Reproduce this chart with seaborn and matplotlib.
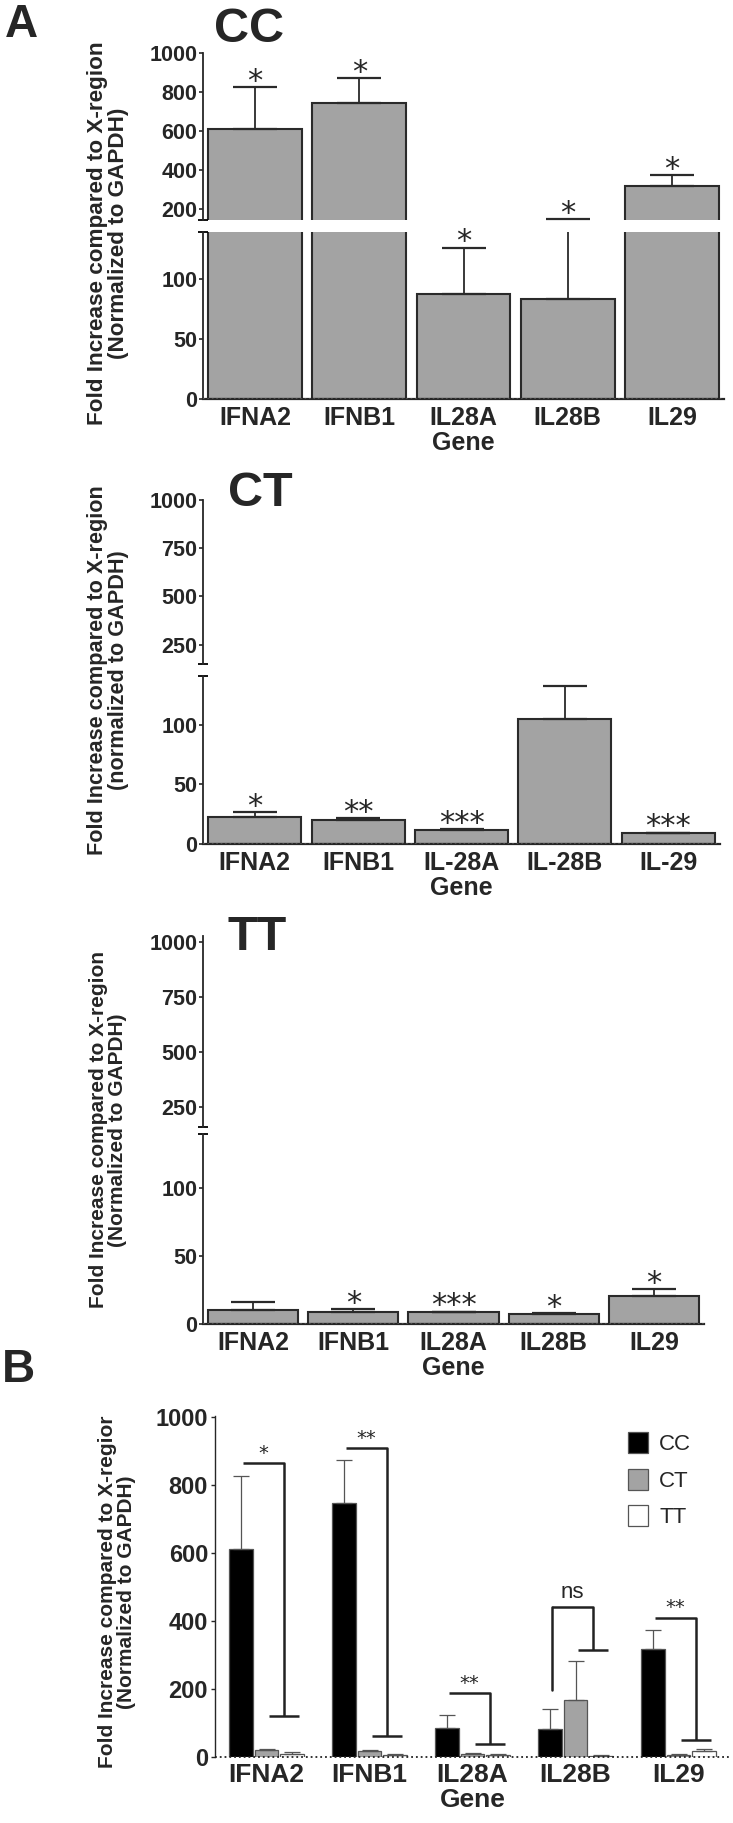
import matplotlib
matplotlib.use("Agg")
import numpy as np
import pandas as pd
import matplotlib.pyplot as plt
import seaborn as sns

# ---- data ----
genes = ['IFNA2', 'IFNB1', 'IL28A', 'IL28B', 'IL29']
genes_ct = ['IFNA2', 'IFNB1', 'IL-28A', 'IL-28B', 'IL-29']

# panel A: bar mean and top of the error bar
cc_mean = [612, 746, 87, 83, 318]
cc_top = [825, 871, 126, 148, 373]
cc_sig = ['*', '*', '*', '*', '*']

ct_mean = [23, 20, 12, 105, 9]
ct_top = [27, 21.5, 12.5, 133, 9.5]
ct_sig = ['*', '**', '***', '', '***']

tt_mean = [10.5, 9, 8.8, 7.4, 21]
tt_top = [16.5, 11, 9.1, 7.8, 25.5]
tt_sig = ['', '*', '***', '*', '*']

# panel B
genotypes = ['CC', 'CT', 'TT']
b_cc_mean = [611, 748, 84, 81, 319]
b_cc_top = [827, 874, 123, 142, 373]
b_ct_mean = [20, 18, 10, 167, 7]
b_ct_top = [25, 20, 11, 283, 8]
b_tt_mean = [8, 7, 7, 4, 19]
b_tt_top = [15, 10, 8, 5, 23]
b_sig = ['*', '**', '**', 'ns', '**']
b_br_top = [865, 909, 187, 442, 410]
b_br_low = [120, 61, 39, 316, 51]
b_br_left = [np.nan, np.nan, np.nan, 196, np.nan]

GRAY = '#a3a3a3'
EDGE = '#2a2a2a'
W, H = 733, 1823

sns.set_style('ticks')
plt.rcParams['font.family'] = ['Liberation Sans', 'DejaVu Sans']
plt.rcParams['font.weight'] = 'bold'

fig = plt.figure(figsize=(W / 100, H / 100), dpi=100)


def box(x0, y0, x1, y1):
    return [x0 / W, 1 - y1 / H, (x1 - x0) / W, (y1 - y0) / H]


def star(ax, x, y, s, size=22, dy=-2):
    ax.annotate(s, (x, y), xytext=(0, dy), textcoords='offset points',
                ha='center', va='baseline', fontsize=size,
                family='DejaVu Sans', fontweight='normal', annotation_clip=False)


def broken_panel(labels, mean, top, sig, xr, up, low, up_lim, low_lim,
                 up_ticks, ylabel, title, title_pos, ylab_y, ylab_size):
    ax_u = fig.add_axes(box(xr[0], up[0], xr[1], up[1]))
    ax_l = fig.add_axes(box(xr[0], low[0], xr[1], low[1]))
    err = np.array(top) - np.array(mean)
    for ax in (ax_u, ax_l):
        sns.barplot(x=labels, y=mean, color=GRAY, edgecolor=EDGE, linewidth=1.5,
                    width=0.9, saturation=1, ax=ax)
        ax.errorbar(range(len(labels)), mean, yerr=[np.zeros(len(mean)), err],
                    fmt='none', ecolor=EDGE, elinewidth=1.3, capsize=16, capthick=1.6)
        ax.set_xlim(-0.5, len(labels) - 0.5)
        ax.set_ylabel('')
        ax.tick_params(axis='y', labelsize=15.5, length=3, width=1.2, pad=1)
        ax.spines['right'].set_visible(False)
        ax.spines['top'].set_visible(False)
        ax.spines['left'].set_linewidth(1.3)
    ax_u.set_ylim(*up_lim)
    ax_u.set_yticks(up_ticks)
    ax_u.spines['bottom'].set_visible(False)
    ax_u.set_xticks([])
    ax_u.set_xlabel('')
    ax_l.set_ylim(*low_lim)
    ax_l.set_yticks([0, 50, 100])
    ax_l.spines['bottom'].set_linewidth(1.6)
    ax_l.axhline(0, color='#555555', ls=':', lw=1.2, zorder=5)
    ax_l.tick_params(axis='x', length=0, labelsize=18, pad=5)
    ax_l.set_xlabel('Gene', fontsize=18, fontweight='bold', labelpad=1)
    for ax in (ax_u, ax_l):
        for lab in ax.get_yticklabels() + ax.get_xticklabels():
            lab.set_fontweight('bold')
    # break marks at the ends of the split axis
    for ax, yy in ((ax_u, 0), (ax_l, 1)):
        ax.plot([0], [yy], marker='_', ms=7, mew=1.3, color='black',
                transform=ax.transAxes, clip_on=False)
    for i, s in enumerate(sig):
        if not s:
            continue
        ax = ax_u if top[i] > low_lim[1] else ax_l
        star(ax, i, top[i], s)
    fig.text(title_pos[0] / W, 1 - title_pos[1] / H, title, fontsize=35,
             fontweight='bold', ha='left', va='center')
    fig.text(108 / W, 1 - ylab_y / H, ylabel, rotation=90, ha='center',
             va='center', multialignment='center', fontsize=ylab_size,
             fontweight='bold', linespacing=1.05)
    return ax_u, ax_l


fig.text(5 / W, 1 - 25 / H, 'A', fontsize=33, fontweight='bold', va='center')
fig.text(2 / W, 1 - 1370 / H, 'B', fontsize=33, fontweight='bold', va='center')

broken_panel(genes, cc_mean, cc_top, cc_sig, (203, 724), (53, 220), (232, 399),
             (144, 1000), (0, 139), [200, 400, 600, 800, 1000],
             'Fold Increase compared to X-region\n(Normalized to GAPDH)',
             'CC', (214, 30), 233, 16.2)
broken_panel(genes_ct, ct_mean, ct_top, ct_sig, (203, 720), (500, 664), (676, 844),
             (150, 1000), (0, 141), [250, 500, 750, 1000],
             'Fold Increase compared to X-region\n(normalized to GAPDH)',
             'CT', (228, 493), 670, 15.6)
broken_panel(genes, tt_mean, tt_top, tt_sig, (203, 704), (936, 1127), (1134, 1324),
             (159, 1027), (0, 140), [250, 500, 750, 1000],
             'Fold Increase compared to X-region\n(Normalized to GAPDH)',
             'TT', (228, 938), 1130, 15)

# ---- panel B ----
dfb = pd.DataFrame({
    'Gene': genes * 3,
    'Genotype': np.repeat(genotypes, len(genes)),
    'value': b_cc_mean + b_ct_mean + b_tt_mean,
})
tops = [b_cc_top, b_ct_top, b_tt_top]
means = [b_cc_mean, b_ct_mean, b_tt_mean]

axb = fig.add_axes(box(215, 1416, 730, 1757))
sns.barplot(data=dfb, x='Gene', y='value', hue='Genotype',
            palette={'CC': 'black', 'CT': GRAY, 'TT': 'white'},
            edgecolor='#555555', linewidth=0.9, width=0.75, gap=0.08,
            saturation=1, ax=axb)
bar_conts = list(axb.containers)
for k, cont in enumerate(bar_conts):
    xs = [p.get_x() + p.get_width() / 2 for p in cont.patches]
    err = np.array(tops[k]) - np.array(means[k])
    axb.errorbar(xs, means[k], yerr=[np.zeros(len(xs)), err], fmt='none',
                 ecolor='#555555', elinewidth=0.9, capsize=6, capthick=0.9)
cc_x = [p.get_x() + p.get_width() / 2 for p in bar_conts[0].patches]
for i in range(len(genes)):
    xl = cc_x[i] + 0.02
    xr = i + 0.17
    axb.plot([xl, xr, xr], [b_br_top[i], b_br_top[i], b_br_low[i]],
             color='#222222', lw=1.8, solid_capstyle='butt')
    axb.plot([xr - 0.15, xr + 0.15], [b_br_low[i], b_br_low[i]],
             color='#222222', lw=1.8, solid_capstyle='butt')
    if not np.isnan(b_br_left[i]):
        axb.plot([xl, xl], [b_br_top[i], b_br_left[i]], color='#222222', lw=1.8)
    if b_sig[i] == 'ns':
        axb.text((xl + xr) / 2, b_br_top[i] + 12, 'ns', ha='center', va='bottom',
                 fontsize=16, fontweight='normal')
    else:
        star(axb, (xl + xr) / 2, b_br_top[i], b_sig[i], size=14, dy=3)

axb.set_xlim(-0.5, 4.5)
axb.set_ylim(0, 1003)
axb.set_yticks([0, 200, 400, 600, 800, 1000])
axb.axhline(0, color='#222222', ls=':', lw=1.3, zorder=5, clip_on=False)
for s in ('top', 'right', 'bottom'):
    axb.spines[s].set_visible(False)
axb.spines['left'].set_linewidth(1.0)
axb.tick_params(axis='y', labelsize=17, length=3, width=1.0, pad=2)
axb.tick_params(axis='x', length=0, labelsize=19, pad=4)
for lab in axb.get_xticklabels() + axb.get_yticklabels():
    lab.set_fontweight('bold')
axb.set_ylabel('')
axb.set_xlabel('Gene', fontsize=19, fontweight='bold', labelpad=1)
handles, labels = axb.get_legend_handles_labels()
axb.legend(handles, labels, loc='upper left', bbox_to_anchor=(628 / W, 1 - 1432 / H),
           bbox_transform=fig.transFigure, frameon=False, borderpad=0,
           borderaxespad=0, prop={'size': 16, 'weight': 'normal'},
           handlelength=0.9, handleheight=1.1, handletextpad=0.5,
           labelspacing=0.6)
fig.text(117 / W, 1 - 1592 / H,
         'Fold Increase compared to X-regior\n(Normalized to GAPDH)',
         rotation=90, ha='center', va='center', multialignment='center',
         fontsize=15, fontweight='bold', linespacing=1.05)

fig.savefig('out.png', dpi=100)
